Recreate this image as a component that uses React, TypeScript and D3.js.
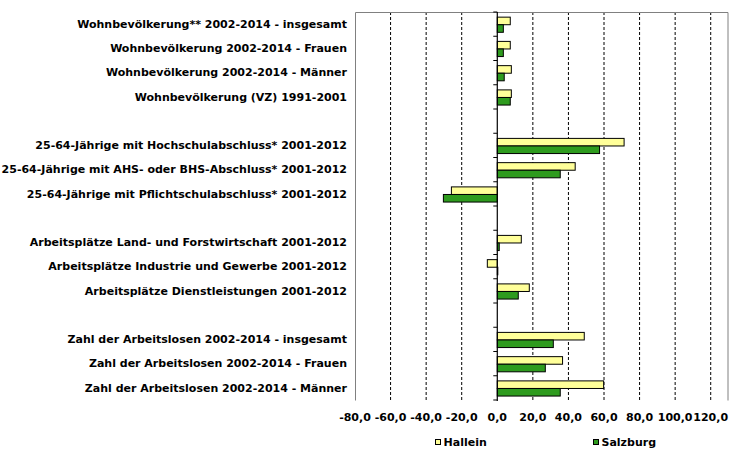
import React from "react";
import * as d3 from "d3";

const categories = [
  "Wohnbevölkerung** 2002-2014 - insgesamt",
  "Wohnbevölkerung 2002-2014 - Frauen",
  "Wohnbevölkerung 2002-2014 - Männer",
  "Wohnbevölkerung (VZ) 1991-2001",
  "",
  "25-64-Jährige mit Hochschulabschluss* 2001-2012",
  "25-64-Jährige mit AHS- oder BHS-Abschluss* 2001-2012",
  "25-64-Jährige mit Pflichtschulabschluss* 2001-2012",
  "",
  "Arbeitsplätze Land- und Forstwirtschaft 2001-2012",
  "Arbeitsplätze Industrie und Gewerbe 2001-2012",
  "Arbeitsplätze Dienstleistungen 2001-2012",
  "",
  "Zahl der Arbeitslosen 2002-2014 - insgesamt",
  "Zahl der Arbeitslosen 2002-2014 - Frauen",
  "Zahl der Arbeitslosen 2002-2014 - Männer",
];

const hallein: (number | null)[] = [7.3, 7.3, 7.9, 7.9, null, 71.3, 43.8, -25.8, null, 13.5, -5.6, 18.0, null, 48.9, 36.7, 59.8];
const salzburg: (number | null)[] = [3.4, 3.4, 3.9, 7.3, null, 57.5, 35.4, -30.3, null, 1.1, 0.3, 11.8, null, 31.5, 27.0, 35.4];

const seriesNames = ["Hallein", "Salzburg"];
const seriesColors = ["#FFFF99", "#2E9B1E"];
const tickValues = [-80, -60, -40, -20, 0, 20, 40, 60, 80, 100, 120];

const W = 755;
const H = 458;
const FONT = "'DejaVu Sans', Verdana, sans-serif";
const FS = 11;

export default function App() {
  const left = 355;
  const right = 728.5;
  const top = 12;
  const bottom = 400;

  const x = d3.scaleLinear().domain([-80, 130]).range([left, right]);
  const idx = categories.map((_, i) => String(i));
  const y = d3.scaleBand<string>().domain(idx).range([top, bottom]).paddingInner(0).paddingOuter(0);
  const inner = d3
    .scaleBand<string>()
    .domain(seriesNames)
    .range([0.6, y.bandwidth() + 0.6])
    .paddingInner(0)
    .paddingOuter(0.6);

  const loc = d3.formatLocale({ decimal: ",", thousands: ".", grouping: [3], currency: ["", "€"], minus: "-" });
  const fmt = loc.format(".1f");
  const series = [hallein, salzburg];
  const x0 = x(0);

  const boundaries = d3.range(categories.length + 1).map((k) => top + k * y.step());

  return (
    <svg width={W} height={H} style={{ position: "absolute", left: 0, top: 0, background: "#fff" }}>
      {tickValues
        .filter((v) => v !== 0 && v !== -80)
        .map((v) => (
          <line key={v} x1={x(v)} x2={x(v)} y1={top} y2={bottom} stroke="#000" strokeWidth={1} strokeDasharray="3,2" />
        ))}
      <path
        d={`M${left + 0.5},${bottom + 0.5}V${top + 0.5}H${right - 0.5}V${bottom + 0.5}`}
        fill="none"
        stroke="#808080"
        strokeWidth={1}
      />
      {series.map((vals, si) =>
        vals.map((v, i) => {
          if (v === null) return null;
          const yy = (y(String(i)) as number) + (inner(seriesNames[si]) as number);
          const xa = Math.min(x(v), x0);
          const w = Math.abs(x(v) - x0);
          return (
            <rect
              key={`${si}-${i}`}
              x={xa}
              y={yy}
              width={w}
              height={inner.bandwidth()}
              fill={seriesColors[si]}
              stroke="#000"
              strokeWidth={1}
            />
          );
        })
      )}
      <line x1={x0} x2={x0} y1={top} y2={bottom + 1} stroke="#000" strokeWidth={1.2} />
      {boundaries.map((b, k) => (
        <line key={k} x1={x0 - 4} x2={x0} y1={b} y2={b} stroke="#000" strokeWidth={1} />
      ))}
      {categories.map((c, i) =>
        c ? (
          <text
            key={i}
            x={347}
            y={(y(String(i)) as number) + y.bandwidth() / 2}
            dy="0.35em"
            textAnchor="end"
            fontFamily={FONT}
            fontWeight="bold"
            fontSize={FS}
            fill="#000"
          >
            {c}
          </text>
        ) : null
      )}
      {tickValues.map((v) => (
        <text
          key={v}
          x={x(v)}
          y={421}
          textAnchor="middle"
          fontFamily={FONT}
          fontWeight="bold"
          fontSize={FS}
          fill="#000"
        >
          {fmt(v)}
        </text>
      ))}
      {seriesNames.map((s, i) => {
        const lx = i === 0 ? 435 : 593;
        return (
          <g key={s}>
            <rect x={lx + 0.5} y={439.5} width={5} height={5} fill={seriesColors[i]} stroke="#000" strokeWidth={1} />
            <text x={lx + 8.5} y={446} fontFamily={FONT} fontWeight="bold" fontSize={FS} fill="#000">
              {s}
            </text>
          </g>
        );
      })}
    </svg>
  );
}
